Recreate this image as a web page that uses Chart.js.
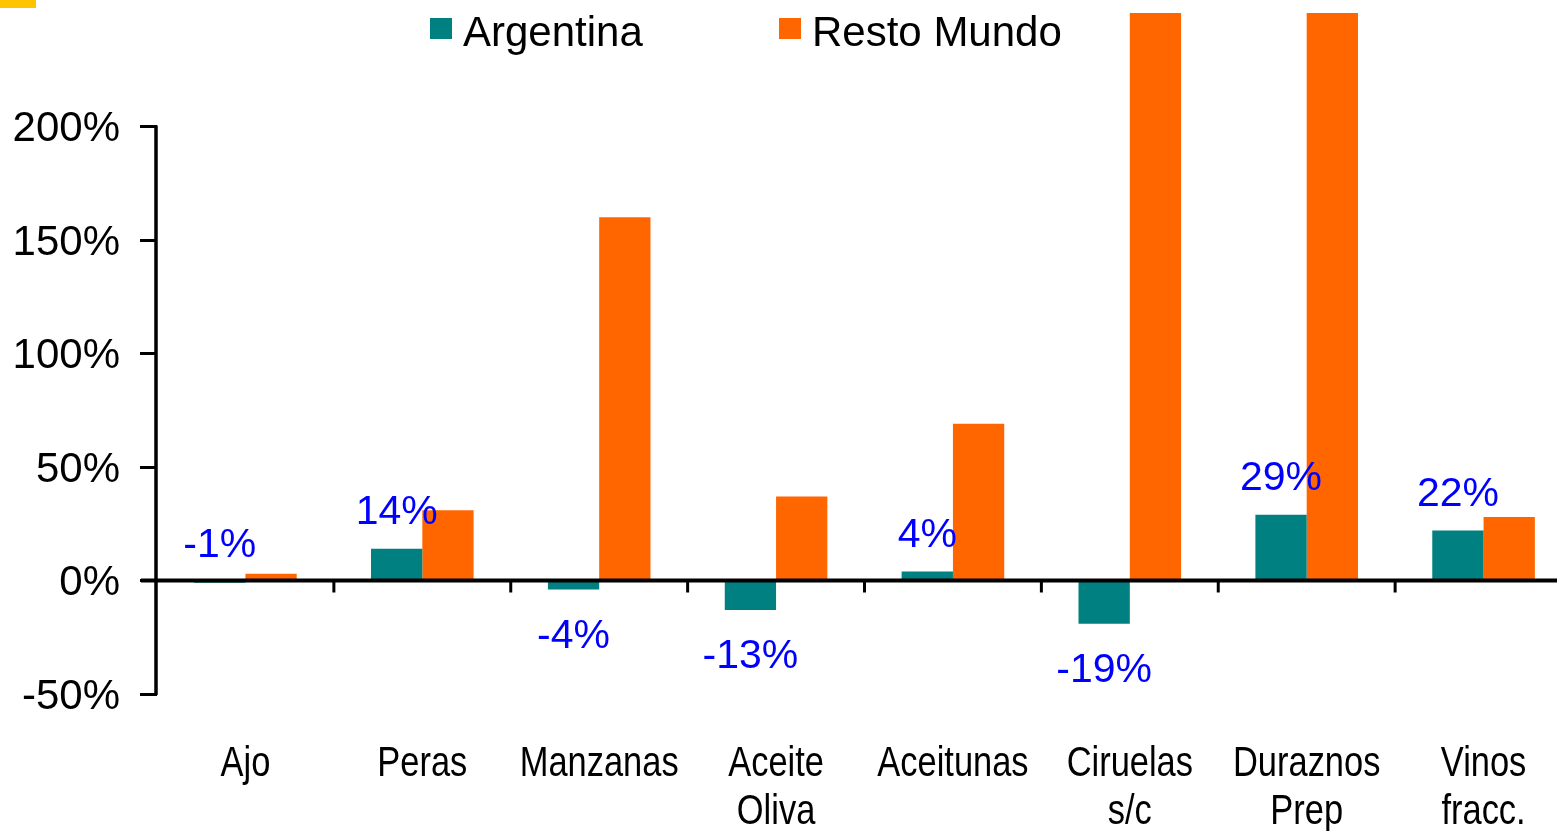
<!DOCTYPE html>
<html>
<head>
<meta charset="utf-8">
<script src="https://cdn.jsdelivr.net/npm/chart.js@4"></script>
<style>
  body { margin: 0; overflow: hidden; background: #fff; }
  #marca { position: absolute; left: 0; top: 0; width: 36px; height: 8px; background: #ffc400; }
</style>
</head>
<body>
<div id="marca"></div>
<canvas id="myChart" width="1580" height="831"></canvas>
<script>
const categorias = [["Ajo"], ["Peras"], ["Manzanas"], ["Aceite", "Oliva"], ["Aceitunas"], ["Ciruelas", "s/c"], ["Duraznos", "Prep"], ["Vinos", "fracc."]];
const argentina = [-1, 14, -4, -13, 4, -19, 29, 22];
const restoMundo = [3, 31, 160, 37, 69, 300, 300, 28];
const series = ["Argentina", "Resto Mundo"];
const colores = ["#008080", "#ff6600"];

const fuente = "'Liberation Sans', Arial, sans-serif";

// ejes, etiquetas y leyenda dibujados a mano
const extras = {
  id: "extras",
  afterDatasetsDraw(chart) {
    const { ctx, chartArea } = chart;
    const x = chart.scales.x;
    const y = chart.scales.y;
    const y0 = y.getPixelForValue(0);
    ctx.save();
    ctx.strokeStyle = "#000";
    // eje y (solo hasta 200%)
    ctx.lineWidth = 3.5;
    ctx.beginPath();
    ctx.moveTo(chartArea.left - 1, y.getPixelForValue(200) - 1);
    ctx.lineTo(chartArea.left - 1, y.getPixelForValue(-50) + 1);
    ctx.stroke();
    // linea del cero
    ctx.lineWidth = 4;
    ctx.beginPath();
    ctx.moveTo(chartArea.left - 16, y0);
    ctx.lineTo(chartArea.right, y0);
    ctx.stroke();
    // marcas entre categorias
    const paso = x.getPixelForValue(1) - x.getPixelForValue(0);
    ctx.lineWidth = 3;
    for (let i = 1; i < categorias.length; i++) {
      const px = x.getPixelForValue(i) - paso / 2;
      ctx.beginPath();
      ctx.moveTo(px, y0);
      ctx.lineTo(px, y0 + 12);
      ctx.stroke();
    }
    // nombres de categorias (letra angosta)
    ctx.fillStyle = "#000";
    ctx.font = "42px " + fuente;
    ctx.textAlign = "center";
    ctx.textBaseline = "alphabetic";
    categorias.forEach((lineas, i) => {
      lineas.forEach((txt, j) => {
        ctx.save();
        ctx.translate(x.getPixelForValue(i), chartArea.bottom + 82 + j * 48);
        ctx.scale(0.82, 1);
        ctx.fillText(txt, 0, 0);
        ctx.restore();
      });
    });
    // etiquetas de Argentina
    const meta = chart.getDatasetMeta(0);
    ctx.fillStyle = "#0000ff";
    ctx.font = "41px " + fuente;
    ctx.textBaseline = "middle";
    meta.data.forEach((bar, i) => {
      const v = argentina[i];
      const arriba = Math.min(bar.y, bar.base);
      const abajo = Math.max(bar.y, bar.base);
      const ty = v > -2 ? arriba - 36 : abajo + 47;
      ctx.fillText(v + "%", bar.x, ty);
    });
    // leyenda
    const posLeyenda = [430, 779];
    ctx.textAlign = "left";
    ctx.font = "42px " + fuente;
    series.forEach((nombre, i) => {
      ctx.fillStyle = colores[i];
      ctx.fillRect(posLeyenda[i], 18, 22, 21);
      ctx.fillStyle = "#000";
      ctx.fillText(nombre, posLeyenda[i] + 33, 34);
    });
    ctx.restore();
  }
};

new Chart(document.getElementById("myChart"), {
  type: "bar",
  data: {
    labels: categorias,
    datasets: [
      { label: series[0], data: argentina, backgroundColor: colores[0] },
      { label: series[1], data: restoMundo, backgroundColor: colores[1] }
    ]
  },
  options: {
    responsive: false,
    animation: false,
    events: [],
    layout: { padding: { top: 13, right: 8, left: 0, bottom: 0 } },
    datasets: { bar: { categoryPercentage: 0.58, barPercentage: 1 } },
    plugins: { legend: { display: false }, tooltip: { enabled: false } },
    scales: {
      x: {
        grid: { display: false },
        border: { display: false },
        ticks: { display: false },
        afterFit: (scale) => { scale.height = 137; }
      },
      y: {
        min: -50,
        max: 250,
        afterFit: (scale) => {
          scale.width = 157;
          scale.paddingTop = 0;
          scale.paddingBottom = 0;
        },
        afterBuildTicks: (scale) => { scale.ticks = scale.ticks.filter((t) => t.value <= 200); },
        border: { display: false },
        grid: {
          drawOnChartArea: false,
          drawTicks: true,
          tickLength: 17,
          lineWidth: 3,
          color: "#000"
        },
        ticks: {
          stepSize: 50,
          color: "#000",
          padding: 20,
          labelOffset: 3,
          font: { family: fuente, size: 42 },
          callback: (v) => v + "%"
        }
      }
    }
  },
  plugins: [extras]
});
</script>
</body>
</html>
